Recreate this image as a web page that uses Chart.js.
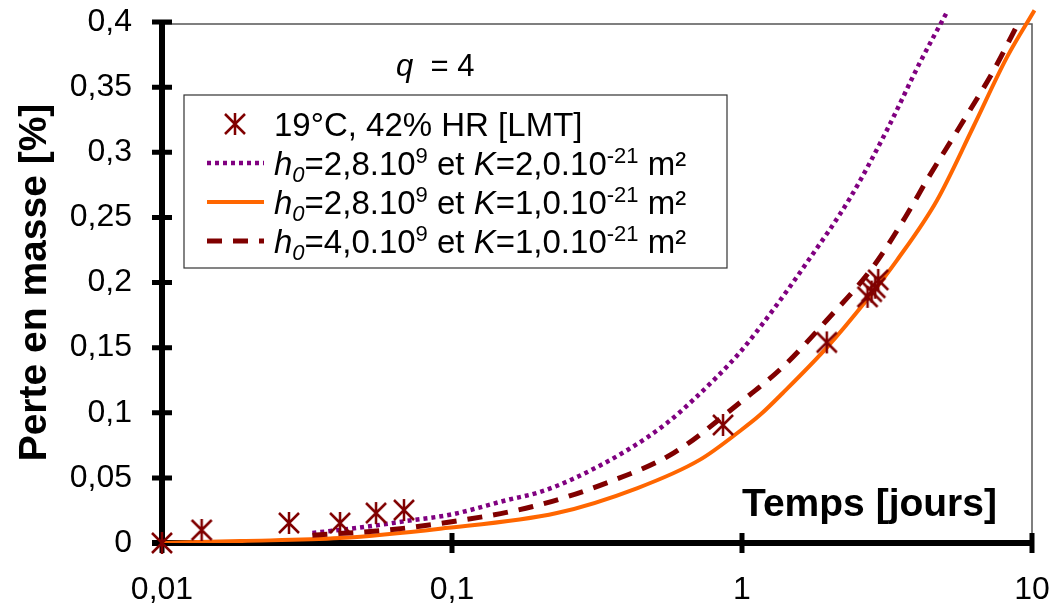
<!DOCTYPE html>
<html>
<head>
<meta charset="utf-8">
<script src="https://cdn.jsdelivr.net/npm/chart.js@4/dist/chart.umd.min.js"></script>
<style>
  html, body { margin: 0; padding: 0; background: #fff; }
  #wrap { width: 1053px; height: 613px; }
</style>
</head>
<body>
<div id="wrap"><canvas id="chart" width="1053" height="613"></canvas></div>
<script>
// x = temps [jours] (log), y = perte en masse [%]
const xTicks = [0.01, 0.1, 1, 10];
const yTicks = [0, 0.05, 0.1, 0.15, 0.2, 0.25, 0.3, 0.35, 0.4];

const mesureT = [0.01, 0.0137, 0.0274, 0.0411, 0.0547, 0.0683, 0.86, 1.96, 2.71, 2.80, 2.88, 2.95];
const mesureY = [0, 0.010, 0.0154, 0.0154, 0.023, 0.0253, 0.0906, 0.154, 0.189, 0.193, 0.196, 0.202];

const k2T = [0.033, 0.05, 0.07, 0.1, 0.155, 0.2, 0.26, 0.4, 0.55, 0.68, 0.98, 1.28, 1.67, 2.36, 3.16, 4.11, 5.13];
const k2Y = [0.0077, 0.0123, 0.017, 0.022, 0.033, 0.039, 0.049, 0.071, 0.092, 0.110, 0.146, 0.179, 0.215, 0.265, 0.317, 0.369, 0.409];

const k1T = [0.01, 0.0186, 0.041, 0.091, 0.23, 0.434, 0.717, 0.984, 1.15, 1.38, 1.96, 2.70, 3.42, 4.70, 6.26, 8.2, 10.2];
const k1Y = [0, 0.0015, 0.0038, 0.011, 0.023, 0.042, 0.064, 0.086, 0.098, 0.115, 0.150, 0.187, 0.217, 0.263, 0.319, 0.373, 0.409];

const h4T = [0.033, 0.06, 0.091, 0.19, 0.34, 0.58, 0.98, 1.38, 1.96, 2.83, 3.7, 4.35, 5.65, 7.34, 9.1];
const h4Y = [0.006, 0.010, 0.0150, 0.028, 0.046, 0.069, 0.1075, 0.135, 0.171, 0.212, 0.252, 0.279, 0.320, 0.362, 0.402];

const legendRows = [
  [{ t: '19°C, 42% HR [LMT]' }],
  [{ t: 'h', i: 1 }, { t: '0', i: 1, sub: 1 }, { t: '=2,8.10' }, { t: '9', sup: 1 }, { t: ' et ' }, { t: 'K', i: 1 }, { t: '=2,0.10' }, { t: '-21', sup: 1 }, { t: ' m²' }],
  [{ t: 'h', i: 1 }, { t: '0', i: 1, sub: 1 }, { t: '=2,8.10' }, { t: '9', sup: 1 }, { t: ' et ' }, { t: 'K', i: 1 }, { t: '=1,0.10' }, { t: '-21', sup: 1 }, { t: ' m²' }],
  [{ t: 'h', i: 1 }, { t: '0', i: 1, sub: 1 }, { t: '=4,0.10' }, { t: '9', sup: 1 }, { t: ' et ' }, { t: 'K', i: 1 }, { t: '=1,0.10' }, { t: '-21', sup: 1 }, { t: ' m²' }]
];

const FAM = '"Liberation Sans", Arial, sans-serif';
const MAROON = '#800000';
const PURPLE = '#800080';
const ORANGE = '#FF6600';

function toXY(xs, ys) {
  return xs.map(function (x, i) { return { x: x, y: ys[i] }; });
}

// asterisk marker: vertical bar + X
function makeStar() {
  const c = document.createElement('canvas');
  c.width = 26; c.height = 26;
  const g = c.getContext('2d');
  g.strokeStyle = MAROON;
  g.lineWidth = 2.5;
  g.beginPath();
  g.moveTo(13, 2); g.lineTo(13, 24);
  g.moveTo(3, 3); g.lineTo(23, 23);
  g.moveTo(23, 3); g.lineTo(3, 23);
  g.stroke();
  return c;
}
const starImg = makeStar();

function drawRich(ctx, x, y, parts, size) {
  parts.forEach(function (p) {
    const s = (p.sup || p.sub) ? Math.round(size * 0.68) : size;
    ctx.font = (p.i ? 'italic ' : '') + s + 'px ' + FAM;
    const dy = p.sup ? -size * 0.36 : (p.sub ? size * 0.2 : 0);
    ctx.fillText(p.t, x, y + dy);
    x += ctx.measureText(p.t).width;
  });
}

const decor = {
  id: 'decor',
  beforeDatasetsDraw: function (chart) {
    const ctx = chart.ctx;
    const a = chart.chartArea;
    const xs = chart.scales.x, ys = chart.scales.y;
    ctx.save();
    // thin frame
    ctx.strokeStyle = '#555';
    ctx.lineWidth = 1.5;
    ctx.strokeRect(a.left, a.top + 2, a.right - a.left, a.bottom - a.top - 2);
    // thick axes
    ctx.strokeStyle = '#000';
    ctx.lineWidth = 6;
    ctx.beginPath();
    ctx.moveTo(a.left, a.top);
    ctx.lineTo(a.left, a.bottom);
    ctx.moveTo(a.left - 10, a.bottom);
    ctx.lineTo(a.right, a.bottom);
    ctx.stroke();
    ctx.lineWidth = 5;
    ctx.beginPath();
    yTicks.forEach(function (v) {
      const py = ys.getPixelForValue(v);
      ctx.moveTo(a.left - 10, py);
      ctx.lineTo(a.left + 10, py);
    });
    xTicks.forEach(function (v) {
      const px = xs.getPixelForValue(v);
      ctx.moveTo(px, a.bottom - 10);
      ctx.lineTo(px, a.bottom + 10);
    });
    ctx.stroke();
    ctx.restore();
  },
  afterDatasetsDraw: function (chart) {
    const ctx = chart.ctx;
    ctx.save();
    ctx.fillStyle = '#000';
    ctx.textBaseline = 'alphabetic';
    // q = 4
    drawRich(ctx, 396, 76, [{ t: 'q', i: 1 }, { t: '  = 4' }], 31);
    // x title inside plot
    ctx.font = 'bold 39px ' + FAM;
    ctx.fillText('Temps [jours]', 742, 516);
    // legend box
    const bx = 184, by = 95, bw = 543, bh = 173;
    ctx.fillStyle = '#fff';
    ctx.fillRect(bx, by, bw, bh);
    ctx.strokeStyle = '#333';
    ctx.lineWidth = 1.2;
    ctx.strokeRect(bx, by, bw, bh);
    const rowY = [124, 163, 202, 241];
    const styles = [null,
      { c: PURPLE, w: 4.5, d: [4, 4] },
      { c: ORANGE, w: 4, d: [] },
      { c: MAROON, w: 5, d: [15, 11] }];
    rowY.forEach(function (ry, i) {
      if (i === 0) {
        ctx.drawImage(starImg, 235 - 13, ry - 13);
      } else {
        const s = styles[i];
        ctx.strokeStyle = s.c;
        ctx.lineWidth = s.w;
        ctx.setLineDash(s.d);
        ctx.beginPath();
        ctx.moveTo(207, ry);
        ctx.lineTo(264, ry);
        ctx.stroke();
        ctx.setLineDash([]);
      }
      ctx.fillStyle = '#000';
      drawRich(ctx, 274, ry + 12, legendRows[i], 33);
    });
    ctx.restore();
  }
};

function fmt(v) {
  return String(Number(v.toFixed(3))).replace('.', ',');
}

new Chart(document.getElementById('chart').getContext('2d'), {
  type: 'line',
  data: {
    datasets: [
      {
        label: '19°C, 42% HR [LMT]',
        data: toXY(mesureT, mesureY),
        showLine: false,
        pointStyle: starImg,
        pointRadius: 11,
        borderColor: MAROON,
        backgroundColor: MAROON,
        clip: false,
        order: 0
      },
      {
        label: 'h0=2,8.10^9 et K=2,0.10^-21 m²',
        data: toXY(k2T, k2Y),
        borderColor: PURPLE,
        borderWidth: 4.5,
        borderDash: [4, 4],
        pointRadius: 0,
        cubicInterpolationMode: 'monotone',
        clip: { left: 0, top: 16, right: 4, bottom: 0 },
        order: 3
      },
      {
        label: 'h0=2,8.10^9 et K=1,0.10^-21 m²',
        data: toXY(k1T, k1Y),
        borderColor: ORANGE,
        borderWidth: 4,
        pointRadius: 0,
        cubicInterpolationMode: 'monotone',
        clip: { left: 0, top: 16, right: 4, bottom: 0 },
        order: 2
      },
      {
        label: 'h0=4,0.10^9 et K=1,0.10^-21 m²',
        data: toXY(h4T, h4Y),
        borderColor: MAROON,
        borderWidth: 5,
        borderDash: [15, 11],
        pointRadius: 0,
        cubicInterpolationMode: 'monotone',
        clip: { left: 0, top: 16, right: 4, bottom: 0 },
        order: 1
      }
    ]
  },
  options: {
    responsive: false,
    animation: false,
    layout: { padding: { top: 22, right: 21, left: 0, bottom: 0 } },
    plugins: { legend: { display: false }, tooltip: { enabled: false } },
    scales: {
      x: {
        type: 'logarithmic',
        min: 0.01,
        max: 10,
        afterBuildTicks: function (s) { s.ticks = xTicks.map(function (v) { return { value: v }; }); },
        afterFit: function (s) { s.height = 70; s.paddingLeft = 0; s.paddingRight = 0; },
        grid: { display: false, drawTicks: false },
        border: { display: false },
        ticks: {
          padding: 28,
          maxRotation: 0,
          autoSkip: false,
          color: '#000',
          font: { family: FAM, size: 32 },
          callback: function (v) { return fmt(v); }
        }
      },
      y: {
        min: 0,
        max: 0.4,
        afterBuildTicks: function (s) { s.ticks = yTicks.map(function (v) { return { value: v }; }); },
        afterFit: function (s) { s.width = 162; s.paddingTop = 0; s.paddingBottom = 0; },
        grid: { display: false, drawTicks: false },
        border: { display: false },
        title: {
          display: true,
          text: 'Perte en masse [%]',
          color: '#000',
          font: { family: FAM, size: 39, weight: 'bold' },
          padding: { top: 12, bottom: 0 }
        },
        ticks: {
          padding: 30,
          color: '#000',
          font: { family: FAM, size: 32 },
          callback: function (v) { return fmt(v); }
        }
      }
    }
  },
  plugins: [decor]
});
</script>
</body>
</html>
